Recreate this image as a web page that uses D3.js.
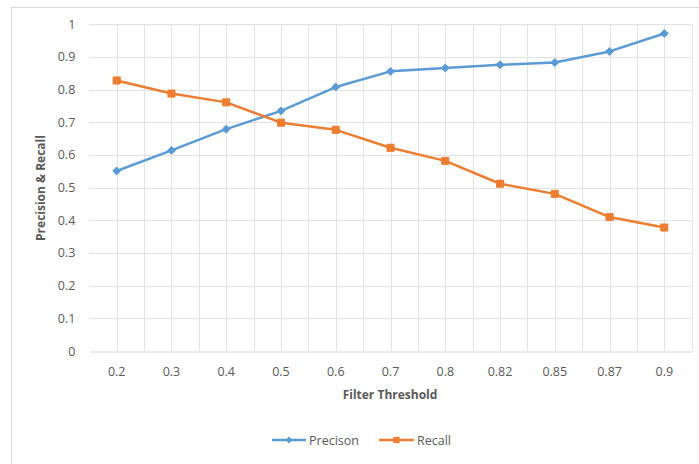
<!DOCTYPE html>
<html><head><meta charset="utf-8">
<script src="https://cdn.jsdelivr.net/npm/d3@7"></script>
<style>body{margin:0;background:#fff}svg{display:block}text{font-family:"Open Sans",sans-serif;fill:#595959}</style>
</head><body>
<script>
const categories = ["0.2","0.3","0.4","0.5","0.6","0.7","0.8","0.82","0.85","0.87","0.9"];
const precision = [0.551,0.614,0.679,0.735,0.808,0.856,0.866,0.876,0.883,0.917,0.972];
const recall = [0.828,0.788,0.761,0.699,0.677,0.622,0.582,0.512,0.481,0.410,0.378];
const yTicks = [0,0.1,0.2,0.3,0.4,0.5,0.6,0.7,0.8,0.9,1];
const seriesNames = ["Precison","Recall"];

const W=699,H=464;
const svg=d3.select("body").append("svg").attr("width",W).attr("height",H);
svg.append("rect").attr("x",11.5).attr("y",7.5).attr("width",W+10).attr("height",H+10)
  .attr("fill","none").attr("stroke","#d9d9d9");

const L=89.3,R=691.7,T=24.3,B=351;
const x=d3.scaleBand().domain(categories).range([L,R]);
const y=d3.scaleLinear().domain([0,1]).range([B,T]);
const grid="#e3e3e3";
const g=svg.append("g");
// horizontal gridlines
g.selectAll(".hg").data(yTicks.filter(d=>d>0)).join("line")
  .attr("x1",L).attr("x2",R).attr("y1",d=>Math.round(y(d))+0.5).attr("y2",d=>Math.round(y(d))+0.5)
  .attr("stroke",grid);
// vertical gridlines at centers and boundaries
const vx=[];
categories.forEach((c,i)=>{ if(i>0) vx.push(x(c)); vx.push(x(c)+x.bandwidth()/2); });
vx.push(R);
g.selectAll(".vg").data(vx).join("line")
  .attr("x1",d=>Math.round(d)+0.5).attr("x2",d=>Math.round(d)+0.5).attr("y1",T).attr("y2",B)
  .attr("stroke",grid);

// axes
const xAxis=svg.append("g").attr("transform",`translate(0,${Math.round(B)+0.5})`)
  .call(d3.axisBottom(x).tickSize(0).tickPadding(16));
xAxis.select(".domain").attr("stroke","#d9d9d9");
xAxis.selectAll("text").attr("font-size","12.5px").attr("fill","#595959").attr("font-family","Open Sans");
const yAxis=svg.append("g").attr("transform",`translate(${L},0)`)
  .call(d3.axisLeft(y).tickValues(yTicks).tickSize(0).tickPadding(14).tickFormat(d=>d3.format("~g")(d)));
yAxis.select(".domain").remove();
yAxis.selectAll("text").attr("font-size","12.5px").attr("fill","#595959").attr("font-family","Open Sans");

// titles
svg.append("text").attr("x",390).attr("y",399).attr("text-anchor","middle")
  .attr("font-size","12px").attr("font-weight","bold").text("Filter Threshold");
svg.append("text").attr("transform","translate(45,188) rotate(-90)").attr("text-anchor","middle")
  .attr("font-size","12px").attr("font-weight","bold").text("Precision & Recall");

const cx=d=>x(d)+x.bandwidth()/2;
const colors=["#5B9BD5","#ED7D31"];
const data=[precision,recall];
data.forEach((vals,si)=>{
  const line=d3.line().x((v,i)=>cx(categories[i])).y(v=>y(v));
  svg.append("path").datum(vals).attr("d",line).attr("fill","none")
    .attr("stroke",colors[si]).attr("stroke-width",2.5).attr("stroke-linejoin","round");
  const sym=d3.symbol().type(si===0?d3.symbolDiamond2:d3.symbolSquare).size(si===0?40:50);
  svg.selectAll(".m"+si).data(vals).join("path")
    .attr("transform",(v,i)=>`translate(${cx(categories[i])},${y(v)})`)
    .attr("d",sym).attr("fill",colors[si]).attr("stroke",colors[si]).attr("stroke-width",1);
});

// legend
const leg=[{x1:272,x2:306,tx:309},{x1:379,x2:414,tx:417}];
leg.forEach((l,i)=>{
  svg.append("line").attr("x1",l.x1).attr("x2",l.x2).attr("y1",440).attr("y2",440)
    .attr("stroke",colors[i]).attr("stroke-width",2.5);
  svg.append("path").attr("transform",`translate(${(l.x1+l.x2)/2},440)`)
    .attr("d",d3.symbol().type(i===0?d3.symbolDiamond2:d3.symbolSquare).size(i===0?30:40))
    .attr("fill",colors[i]);
  svg.append("text").attr("x",l.tx).attr("y",444.5).attr("font-size","12.5px").text(seriesNames[i]);
});
</script>
</body></html>
